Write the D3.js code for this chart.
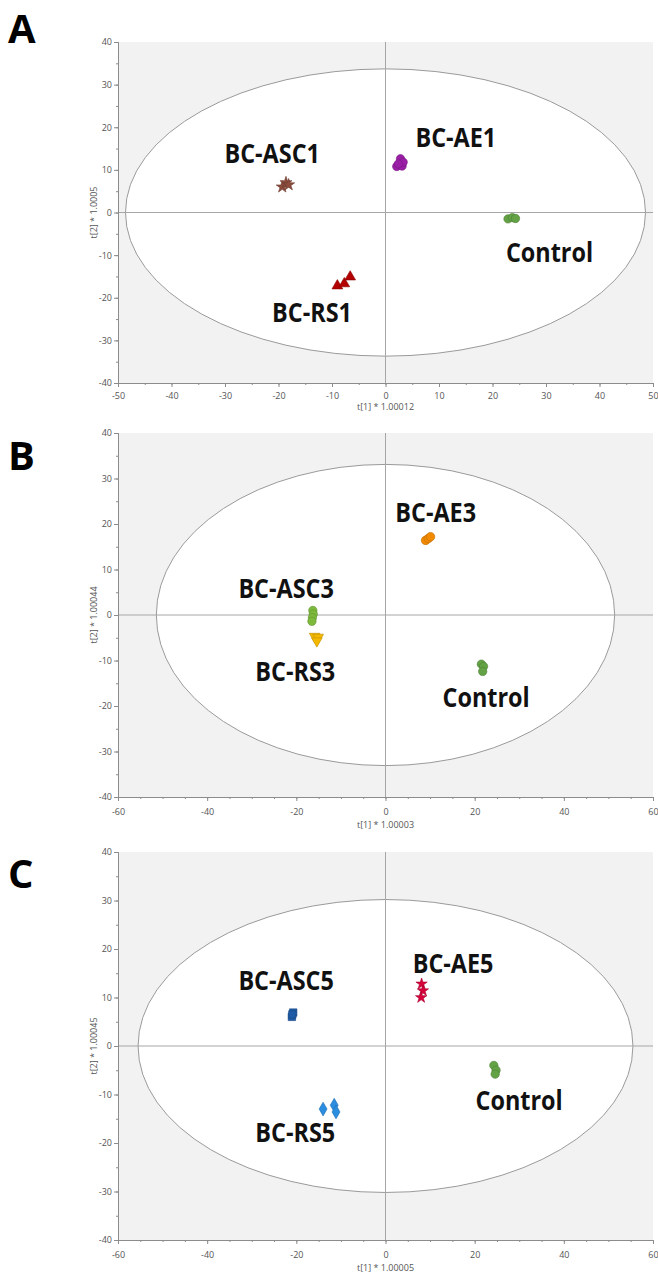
<!DOCTYPE html>
<html>
<head>
<meta charset="utf-8">
<script src="https://cdn.jsdelivr.net/npm/d3@7"></script>
<style>
  body { margin: 0; background: #fff; }
  svg { display: block; }
</style>
</head>
<body>
<svg id="chart"></svg>
<script>
const width = 658;
const height = 1273;

// ---- data ----
const panelLetters = ["A", "B", "C"];
const xDomains = [[-50, 50], [-60, 60], [-60, 60]];
const yDomain = [-40, 40];
const xMajorStep = [10, 20, 20];
const xTitles = ["t[1] * 1.00012", "t[1] * 1.00003", "t[1] * 1.00005"];
const yTitles = ["t[2] * 1.0005", "t[2] * 1.00044", "t[2] * 1.00045"];
// Hotelling T2 ellipse half-axes (t1, t2)
const ellipseAxes = [[48.6, 33.7], [51.4, 33.1], [55.5, 30.2]];

const groupsA = ["BC-ASC1", "BC-AE1", "Control", "BC-RS1"];
const scoresA = [
    [[-19.3, 6.0], [-18.6, 7.0], [-18.1, 6.5]],
    [[2.1, 10.8], [3.1, 10.9], [2.8, 12.6], [3.3, 11.8], [2.4, 11.4]],
    [[22.9, -1.5], [23.7, -1.2], [24.3, -1.4]],
    [[-9.0, -17.2], [-7.7, -16.7], [-6.6, -15.1]]
];
const labelsA = [[-30.1, 11.6], [5.6, 15.4], [22.5, -11.6], [-21.2, -25.7]];

const groupsB = ["BC-AE3", "BC-ASC3", "BC-RS3", "Control"];
const scoresB = [
    [[9.0, 16.4], [9.6, 16.8], [10.1, 17.2]],
    [[-16.3, 1.0], [-16.2, 0.2], [-16.4, -0.6], [-16.5, -1.4]],
    [[-15.9, -4.7], [-15.1, -4.9], [-15.4, -5.7]],
    [[21.5, -10.8], [22.0, -11.3], [21.8, -12.4]]
];
const labelsB = [[2.2, 20.4], [-33.0, 3.7], [-29.2, -14.5], [12.8, -20.2]];

const groupsC = ["BC-ASC5", "BC-AE5", "Control", "BC-RS5"];
const scoresC = [
    [[-21.0, 6.0], [-20.7, 6.9], [-20.9, 6.5]],
    [[8.1, 12.8], [8.4, 11.4], [8.0, 10.0]],
    [[24.3, -4.0], [24.8, -5.0], [24.6, -5.8]],
    [[-14.0, -13.0], [-11.5, -12.2], [-11.1, -13.6]]
];
const labelsC = [[-33.0, 11.5], [6.1, 15.0], [20.2, -13.2], [-29.2, -19.8]];

// ---- styles ----
const markerStyle = {
    "BC-ASC1": { shape: d3.symbolStar, fill: "#8b4c3c", rotate: 0, size: 45 },
    "BC-AE1": { shape: d3.symbolCircle, fill: "#9b1fa6", rotate: 0, size: 55 },
    "BC-RS1": { shape: d3.symbolTriangle, fill: "#b30000", rotate: 0, size: 50 },
    "BC-AE3": { shape: d3.symbolCircle, fill: "#f28a00", rotate: 0, size: 58 },
    "BC-ASC3": { shape: d3.symbolCircle, fill: "#7dba3c", rotate: 0, size: 55 },
    "BC-RS3": { shape: d3.symbolTriangle, fill: "#f5b800", rotate: 180, size: 50 },
    "BC-ASC5": { shape: d3.symbolSquare, fill: "#1f5ca8", rotate: 0, size: 55 },
    "BC-AE5": { shape: d3.symbolStar, fill: "#d8003a", rotate: 0, size: 40 },
    "BC-RS5": { shape: d3.symbolDiamond, fill: "#2b8de0", rotate: 0, size: 55 },
    "Control": { shape: d3.symbolCircle, fill: "#63a245", rotate: 0, size: 55 }
};

const panels = [
    { top: 42, bottom: 383, groups: groupsA, scores: scoresA, labels: labelsA, letterY: 43 },
    { top: 433, bottom: 797, groups: groupsB, scores: scoresB, labels: labelsB, letterY: 470 },
    { top: 852, bottom: 1240, groups: groupsC, scores: scoresC, labels: labelsC, letterY: 888 }
];
const plotLeft = 118;
const plotRight = 653;

const svg = d3.select("#chart")
    .attr("width", width)
    .attr("height", height)
    .style("font-family", "'Open Sans', 'DejaVu Sans', sans-serif");

panels.forEach((p, i) => {
    const x = d3.scaleLinear().domain(xDomains[i]).range([plotLeft, plotRight]);
    const y = d3.scaleLinear().domain(yDomain).range([p.bottom, p.top]);
    const g = svg.append("g");

    // background and ellipse
    g.append("rect")
        .attr("x", plotLeft).attr("y", p.top)
        .attr("width", plotRight - plotLeft).attr("height", p.bottom - p.top)
        .attr("fill", "#f2f2f2");

    g.append("ellipse")
        .attr("cx", x(0)).attr("cy", y(0))
        .attr("rx", x(ellipseAxes[i][0]) - x(0))
        .attr("ry", y(0) - y(ellipseAxes[i][1]))
        .attr("fill", "#fff")
        .attr("stroke", "#9a9a9a")
        .attr("stroke-width", 1);

    // zero lines
    g.append("line")
        .attr("x1", x(0)).attr("x2", x(0))
        .attr("y1", p.top).attr("y2", p.bottom)
        .attr("stroke", "#a6a6a6");
    g.append("line")
        .attr("x1", plotLeft).attr("x2", plotRight)
        .attr("y1", y(0)).attr("y2", y(0))
        .attr("stroke", "#a6a6a6");

    // axes
    const xMajor = d3.range(xDomains[i][0], xDomains[i][1] + 0.1, xMajorStep[i]);
    const xMinor = d3.range(xDomains[i][0], xDomains[i][1] + 0.1, 5);
    const yMajor = d3.range(-40, 41, 10);
    const yMinor = d3.range(-40, 41, 5);

    const xMinorAxis = g.append("g")
        .attr("transform", `translate(0,${p.bottom})`)
        .call(d3.axisBottom(x).tickValues(xMinor).tickSize(2).tickFormat(""));
    const xAxis = g.append("g")
        .attr("transform", `translate(0,${p.bottom})`)
        .call(d3.axisBottom(x).tickValues(xMajor).tickSize(4).tickPadding(i === 0 ? 6 : 8).tickFormat(d => String(d)));

    const yMinorAxis = g.append("g")
        .attr("transform", `translate(${plotLeft},0)`)
        .call(d3.axisLeft(y).tickValues(yMinor).tickSize(2).tickFormat(""));
    const yAxis = g.append("g")
        .attr("transform", `translate(${plotLeft},0)`)
        .call(d3.axisLeft(y).tickValues(yMajor).tickSize(4).tickPadding(2).tickFormat(d => String(d)));

    [xMinorAxis, xAxis, yMinorAxis, yAxis].forEach(a => {
        a.select(".domain").attr("stroke", "#8c8c8c");
        a.selectAll(".tick line").attr("stroke", "#8c8c8c");
        a.selectAll("text")
            .attr("fill", "#555")
            .style("font-size", "9px")
            .style("font-family", "'Open Sans', sans-serif");
    });

    // axis titles
    g.append("text")
        .attr("x", x(0))
        .attr("y", p.bottom + (i === 0 ? 27 : 31))
        .attr("text-anchor", "middle")
        .attr("fill", "#555")
        .style("font-size", "9px")
        .text(xTitles[i]);

    g.append("text")
        .attr("transform", `translate(97,${y(0)}) rotate(-90)`)
        .attr("text-anchor", "middle")
        .attr("fill", "#555")
        .style("font-size", "9px")
        .text(yTitles[i]);

    // scores
    p.groups.forEach((name, k) => {
        const st = markerStyle[name];
        const sym = d3.symbol().type(st.shape).size(st.size);
        g.append("g")
            .selectAll("path")
            .data(p.scores[k])
            .join("path")
            .attr("d", sym)
            .attr("transform", d => `translate(${x(d[0])},${y(d[1])}) rotate(${st.rotate})`)
            .attr("fill", st.fill)
            .attr("stroke", d3.color(st.fill).darker(0.7))
            .attr("stroke-width", 0.6);

        const label = g.append("text")
            .attr("x", x(p.labels[k][0]))
            .attr("y", y(p.labels[k][1]))
            .attr("fill", "#111")
            .style("font-size", "26px")
            .style("font-weight", "bold")
            .text(name);
        const len = label.node().getComputedTextLength();
        label.attr("textLength", len * 0.9).attr("lengthAdjust", "spacingAndGlyphs");
    });

    // panel letter
    svg.append("text")
        .attr("x", 8)
        .attr("y", p.letterY)
        .attr("fill", "#000")
        .style("font-size", "40px")
        .style("font-weight", "bold")
        .text(panelLetters[i]);
});
</script>
</body>
</html>
